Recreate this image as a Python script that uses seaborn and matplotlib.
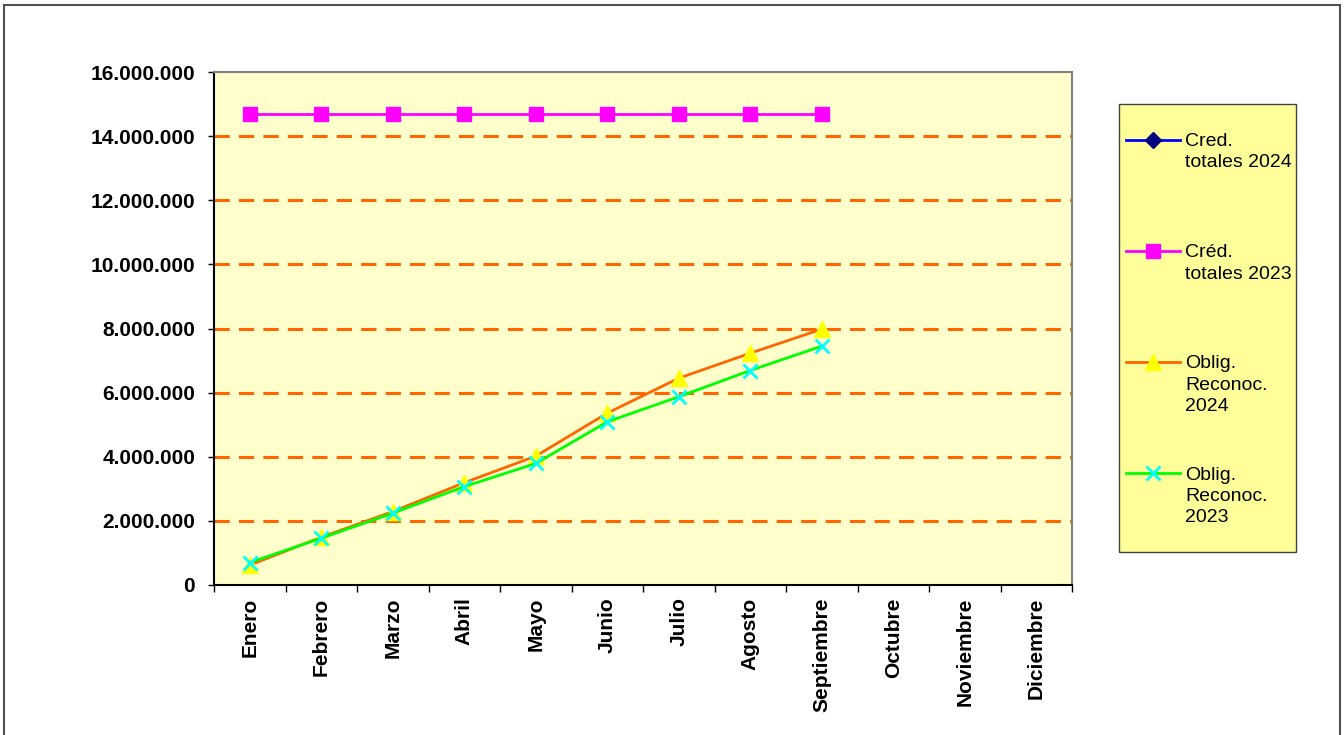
import numpy as np
import pandas as pd
import matplotlib
matplotlib.use("Agg")
import matplotlib.pyplot as plt
import seaborn as sns
from matplotlib.ticker import FuncFormatter, FixedLocator
from matplotlib.patches import Rectangle

# DATOS
meses = ["Enero", "Febrero", "Marzo", "Abril", "Mayo", "Junio", "Julio",
         "Agosto", "Septiembre", "Octubre", "Noviembre", "Diciembre"]

cred_totales_2024 = [np.nan] * 12
cred_totales_2023 = [14680000] * 9 + [np.nan] * 3
oblig_reconoc_2024 = [620000, 1490000, 2290000, 3190000, 4020000, 5360000,
                      6450000, 7230000, 7980000, np.nan, np.nan, np.nan]
oblig_reconoc_2023 = [700000, 1460000, 2240000, 3070000, 3790000, 5090000,
                      5870000, 6690000, 7450000, np.nan, np.nan, np.nan]

# las etiquetas de 2 lineas llevan un salto extra para que todas ocupen lo mismo
series = [
    ("Cred.\ntotales 2024\n", cred_totales_2024, "#0000FF", "D", "#000080", 8),
    ("Créd.\ntotales 2023\n", cred_totales_2023, "#FF00FF", "s", "#FF00FF", 10),
    ("Oblig.\nReconoc.\n2024", oblig_reconoc_2024, "#FF6600", "^", "#FFFF00", 11),
    ("Oblig.\nReconoc.\n2023", oblig_reconoc_2023, "#00FF00", "x", "#00FFFF", 10),
]

plt.rcParams["font.family"] = ["Liberation Sans", "DejaVu Sans"]

fig = plt.figure(figsize=(13.44, 7.35), dpi=100)
ax = fig.add_axes([214 / 1344, 150 / 735, 858 / 1344, 513 / 735])
ax.set_facecolor("#FFFFCC")

x = np.arange(len(meses))
for nombre, valores, color, marker, mcolor, ms in series:
    df = pd.DataFrame({"x": x, "y": valores})
    sns.lineplot(data=df, x="x", y="y", ax=ax, color=color, linewidth=2,
                 marker=marker, markersize=ms, markerfacecolor=mcolor,
                 markeredgecolor=mcolor, markeredgewidth=2 if marker == "x" else 1,
                 label=nombre, zorder=3)

# Rejilla naranja discontinua
for v in range(2000000, 16000000, 2000000):
    ax.axhline(v, color="#FF6600", linewidth=2.2, linestyle=(0, (5, 3)), zorder=1)

ax.set_xlim(-0.5, 11.5)
ax.set_ylim(0, 16000000)
ax.yaxis.set_major_locator(FixedLocator(range(0, 16000001, 2000000)))
ax.yaxis.set_major_formatter(FuncFormatter(lambda v, p: f"{int(v):,}".replace(",", ".")))
ax.set_xticks(x)
ax.set_xticklabels(meses, rotation=90, fontsize=15, fontweight="bold", va="top")
ax.set_xticks(np.arange(-0.5, 12.0, 1), minor=True)
ax.tick_params(axis="x", which="major", length=0, pad=9)
ax.tick_params(axis="x", which="minor", length=5, width=1, direction="out")
ax.tick_params(axis="y", length=4.5, width=1, direction="out", pad=9)
for t in ax.get_yticklabels():
    t.set_fontsize(15)
    t.set_fontweight("bold")
ax.set_xlabel("")
ax.set_ylabel("")

for lado in ["top", "right"]:
    ax.spines[lado].set_color("#808080")
    ax.spines[lado].set_linewidth(1.5)
for lado in ["left", "bottom"]:
    ax.spines[lado].set_color("black")
    ax.spines[lado].set_linewidth(1.5)

# Caja de la leyenda (detras de la leyenda)
fig.patches.append(Rectangle((1119 / 1344, 1 - 552 / 735), 177 / 1344, 448 / 735,
                             transform=fig.transFigure, facecolor="#FFFF99",
                             edgecolor="#404040", linewidth=1, zorder=-1))

leg = ax.legend(loc="upper left", bbox_to_anchor=(1126 / 1344, 1 - 133 / 735),
                bbox_transform=fig.transFigure, frameon=False,
                fontsize=14, labelspacing=2.64, handlelength=2.8, borderpad=0,
                handletextpad=0.25, borderaxespad=0)
for t in leg.get_texts():
    t.set_linespacing(1.34)
for col in leg._legend_handle_box.get_children():
    for item in col.get_children():
        item.align = "top"

# Borde exterior
fig.patches.append(Rectangle((4 / 1344, -0.01), 1336 / 1344, 730 / 735 + 0.01,
                             transform=fig.transFigure, fill=False,
                             edgecolor="#505050", linewidth=1.5))

fig.savefig("out.png", dpi=100)
